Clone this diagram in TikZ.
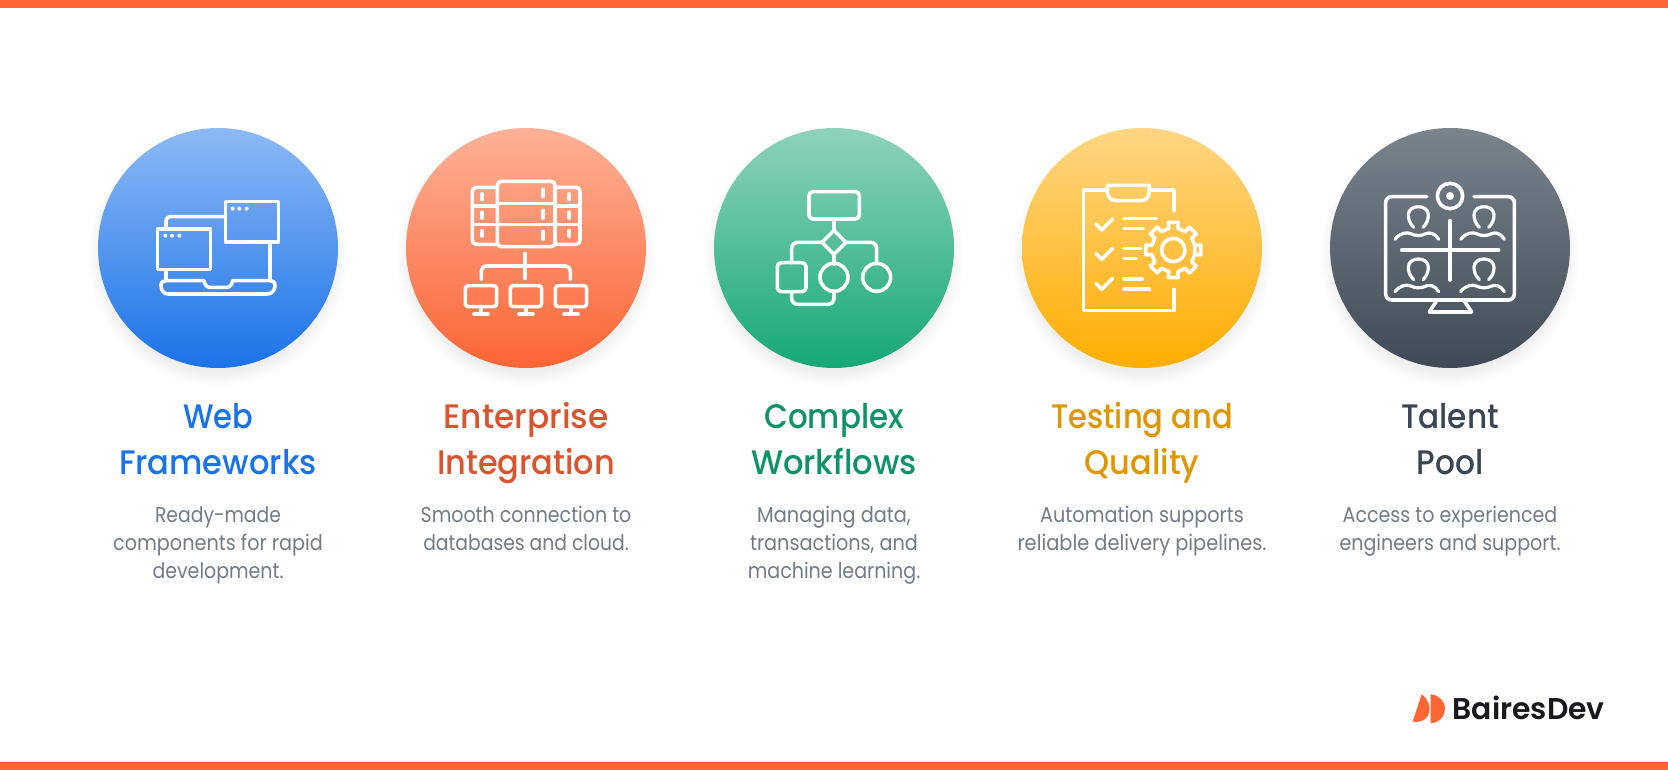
\documentclass[tikz,border=0pt]{standalone}
\usepackage{fontspec}
\usepackage{graphicx}
\newfontfamily\titlefont{Poppins Medium}
\newfontfamily\bodyfont{Poppins}
\newfontfamily\logofont{Poppins SemiBold}
\definecolor{barc}{HTML}{FF6633}
\definecolor{bluet}{HTML}{1A73E8}
\definecolor{oranget}{HTML}{D9552F}
\definecolor{greent}{HTML}{0F9268}
\definecolor{yellowt}{HTML}{E09600}
\definecolor{darkt}{HTML}{3A4654}
\definecolor{bodyc}{HTML}{727C87}
\definecolor{logoc}{HTML}{16191D}
\definecolor{c1a}{HTML}{8DB9F5}\definecolor{c1b}{HTML}{1A73E8}
\definecolor{c2a}{HTML}{FDB197}\definecolor{c2b}{HTML}{FB6535}
\definecolor{c3a}{HTML}{8FD3BA}\definecolor{c3b}{HTML}{16A877}
\definecolor{c4a}{HTML}{FFD684}\definecolor{c4b}{HTML}{FFAD00}
\definecolor{c5a}{HTML}{7A848D}\definecolor{c5b}{HTML}{3F4A56}
\newcommand{\fitto}[2]{\sbox0{#2}\pgfmathsetmacro\fitr{#1/\wd0}\scalebox{\fitr}[1]{\usebox0}}
\tikzset{
  titletxt/.style={anchor=base,inner sep=0pt,font=\titlefont\fontsize{34}{34}\selectfont},
  bodytxt/.style={anchor=base,inner sep=0pt,text=bodyc,font=\bodyfont\fontsize{21.5}{21.5}\selectfont},
  icon/.style={draw=white,line width=3.6pt,line join=round,line cap=round,fill=none},
  iconfill/.style={fill=white,draw=none},
  zoomed/.style={shift={#1},x=.33333pt,y=-.33333pt}
}
% disc: cx, top colour, bottom colour
\newcommand{\disc}[3]{%
  \foreach \k in {0,...,15}{\fill[black,opacity=.005] (#1,257) circle[radius={115pt+\k*1pt}];}
  \shade[top color=#2,bottom color=#3] (#1,248) circle[radius=120pt];}
\newcommand{\person}[2]{%
  \begin{scope}[shift={(#1,#2)}]
  \draw[icon,line width=3.2pt] (281,352) .. controls (268,340) and (265,325) .. (265,315) .. controls (265,298) and (280,290) .. (295,290) .. controls (310,290) and (325,298) .. (325,315) .. controls (325,325) and (322,340) .. (309,352);
  \draw[icon,line width=3.2pt] (225,388) .. controls (240,368) and (262,365) .. (275,372) .. controls (285,378) and (305,378) .. (315,372) .. controls (330,365) and (345,370) .. (356,388);
  \end{scope}}
\newcommand{\monitor}[1]{%
  \draw[icon,rounded corners=3pt] (#1-47,527) rectangle (#1+47,590);
  \draw[icon] (#1,590) -- (#1,612);
  \draw[icon] (#1-21,612) -- (#1+21,612);}
\newcommand{\pill}[3]{\draw[icon,line width=3.8pt] (#1,#2) -- (#1,#3);}
\begin{document}
\begin{tikzpicture}[x=1pt,y=-1pt]
\useasboundingbox (0,0) rectangle (1668,770);
\fill[white] (0,0) rectangle (1668,770);
\fill[barc] (0,0) rectangle (1668,8);
\fill[barc] (0,761.5) rectangle (1668,770);

\disc{218}{c1a}{c1b}
\disc{526}{c2a}{c2b}
\disc{834}{c3a}{c3b}
\disc{1142}{c4a}{c4b}
\disc{1450}{c5a}{c5b}

% icon 1: laptop and windows
\begin{scope}[zoomed={(80,110)}]
\draw[icon,line cap=butt,rounded corners=4pt] (258,357) -- (258,320) -- (433,320);
\draw[icon,line cap=butt] (570,398) -- (570,512);
\draw[icon,line cap=butt] (258,480) -- (258,512);
\draw[icon] (372,512) -- (270,512) -- (258,512) .. controls (250,512) and (243,516) .. (243,526) .. controls (243,542) and (252,552) .. (265,552) -- (560,552) .. controls (575,552) and (585,542) .. (585,526) .. controls (585,516) and (578,512) .. (570,512) -- (458,512) .. controls (456,524) and (450,532) .. (440,532) -- (390,532) .. controls (380,532) and (374,524) .. (372,512);
\draw[icon] (233,357) rectangle (392,478);
\draw[icon] (437,275) rectangle (595,396);
\foreach \dx in {256,276,298}{\fill[iconfill] (\dx,377) circle[radius=6];}
\foreach \dx in {458,478,500}{\fill[iconfill] (\dx,296) circle[radius=6];}
\end{scope}

% icon 2: servers and network
\begin{scope}[zoomed={(390,110)}]
\draw[icon,rounded corners=4pt] (322,214) rectangle (495,410);
\draw[icon] (322,280) -- (495,280);
\draw[icon] (322,344) -- (495,344);
\draw[icon,rounded corners=4pt] (322,232) -- (247,232) -- (247,403) -- (322,403);
\draw[icon,rounded corners=4pt] (495,232) -- (570,232) -- (570,403) -- (495,403);
\foreach \sy in {288,344}{\draw[icon] (247,\sy) -- (322,\sy); \draw[icon] (495,\sy) -- (570,\sy);}
\pill{277}{252}{268}\pill{277}{307}{324}\pill{277}{362}{378}
\pill{460}{238}{260}\pill{460}{302}{324}\pill{460}{365}{387}
\pill{538}{252}{268}\pill{538}{307}{324}\pill{538}{362}{378}
\draw[icon] (405,430) -- (405,505);
\draw[icon,rounded corners=5pt] (274,508) -- (274,468) -- (541,468) -- (541,508);
\monitor{273}\monitor{408}\monitor{543}
\end{scope}

% icon 3: flow chart
\begin{scope}[zoomed={(700,110)}]
\draw[icon,rounded corners=4pt] (327,245) rectangle (478,327);
\draw[icon] (402,327) -- (402,362);
\draw[icon] (402,361) -- (438,397) -- (402,433) -- (366,397) -- cycle;
\draw[icon,rounded corners=6pt] (366,397) -- (275,397) -- (275,458);
\draw[icon,rounded corners=6pt] (438,397) -- (530,397) -- (530,462);
\draw[icon] (402,433) -- (402,462);
\draw[icon,rounded corners=4pt] (232,458) rectangle (318,545);
\draw[icon] (402,502) circle[radius=42];
\draw[icon] (530,502) circle[radius=42];
\draw[icon,rounded corners=6pt] (275,545) -- (275,583) -- (402,583) -- (402,544);
\end{scope}

% icon 4: checklist and gear
\begin{scope}[zoomed={(1010,110)}]
\draw[icon] (292,240) -- (220,240) -- (220,602) -- (492,602) -- (492,538);
\draw[icon] (492,302) -- (492,240) -- (418,240);
\draw[icon] (292,226) -- (418,226) -- (418,245) .. controls (418,262) and (405,272) .. (392,272) -- (318,272) .. controls (305,272) and (292,262) .. (292,245) -- cycle;
\foreach \cy in {342,430,520}{\draw[icon] (258,\cy) -- (275,\cy+18) -- (308,\cy-15);}
\draw[icon] (342,326) -- (438,326);
\draw[icon] (342,356) -- (400,356);
\draw[icon] (342,415) -- (393,415);
\draw[icon] (342,445) -- (378,445);
\draw[icon] (342,507) -- (396,507);
\draw[icon] (342,537) -- (418,537);
\draw[icon,shift={(490,420)}] (13:66) \foreach \ga in {0,45,...,315}{
   -- ({\ga-12}:66) -- ({\ga-10}:84) -- ({\ga+10}:84) -- ({\ga+12}:66) -- ({\ga+45-12}:66)} -- cycle;
\draw[icon] (490,420) circle[radius=35];
\end{scope}

% icon 5: video call
\begin{scope}[zoomed={(1320,110)}]
\draw[icon,rounded corners=6pt] (320,260) -- (197,260) -- (197,570) -- (583,570) -- (583,260) -- (462,260);
\draw[icon] (390,258) circle[radius=38];
\fill[iconfill] (390,258) circle[radius=12];
\draw[icon] (390,332) -- (390,510);
\draw[icon] (245,420) -- (536,420);
\draw[icon] (350,572) -- (328,606) -- (455,606) -- (432,572);
\person{0}{0}\person{197}{0}\person{0}{157}\person{197}{157}
\end{scope}

% titles
\node[titletxt,text=bluet] (t1a) at (218,428) {\fitto{70}{Web}};
\node[titletxt,text=bluet] (t1b) at (218,474.5) {\fitto{198}{Frameworks}};
\node[titletxt,text=oranget] (t2a) at (526,428) {\fitto{165}{Enterprise}};
\node[titletxt,text=oranget] (t2b) at (526,474.5) {\fitto{178}{Integration}};
\node[titletxt,text=greent] (t3a) at (834,428) {\fitto{139.3}{Complex}};
\node[titletxt,text=greent] (t3b) at (834,474.5) {\fitto{166}{Workflows}};
\node[titletxt,text=yellowt] (t4a) at (1142,428) {\fitto{182}{Testing and}};
\node[titletxt,text=yellowt] (t4b) at (1142,474.5) {\fitto{115}{Quality}};
\node[titletxt,text=darkt] (t5a) at (1450,428) {\fitto{98}{Talent}};
\node[titletxt,text=darkt] (t5b) at (1450,474.5) {\fitto{66.7}{Pool}};

% body texts
\node[bodytxt] (b1a) at (218,522) {\fitto{126}{Ready-made}};
\node[bodytxt] (b1b) at (218,550) {\fitto{209.6}{components for rapid}};
\node[bodytxt] (b1c) at (218,578) {\fitto{131}{development.}};
\node[bodytxt] (b2a) at (526,522) {\fitto{210.7}{Smooth connection to}};
\node[bodytxt] (b2b) at (526,550) {\fitto{205.4}{databases and cloud.}};
\node[bodytxt] (b3a) at (834,522) {\fitto{153.6}{Managing data,}};
\node[bodytxt] (b3b) at (834,550) {\fitto{167.9}{transactions, and}};
\node[bodytxt] (b3c) at (834,578) {\fitto{172.5}{machine learning.}};
\node[bodytxt] (b4a) at (1142,522) {\fitto{203.6}{Automation supports}};
\node[bodytxt] (b4b) at (1142,550) {\fitto{249}{reliable delivery pipelines.}};
\node[bodytxt] (b5a) at (1450,522) {\fitto{214.7}{Access to experienced}};
\node[bodytxt] (b5b) at (1450,550) {\fitto{221}{engineers and support.}};

% logo
\begin{scope}[zoomed={(1390,670)}]
\fill[barc] (95,73) -- (68,155) .. controls (105,160) and (122,135) .. (118,110) .. controls (115,92) and (105,80) .. (95,73) -- cycle;
\fill[barc] (122,73) -- (122,160) .. controls (150,158) and (166,135) .. (165,115) .. controls (164,92) and (145,74) .. (122,73) -- cycle;
\end{scope}
\node[anchor=base west,inner sep=0pt,text=logoc,font=\logofont\fontsize{30}{30}\selectfont] (logo) at (1452.5,719.5) {\fitto{152}{BairesDev}};
\end{tikzpicture}
\end{document}
